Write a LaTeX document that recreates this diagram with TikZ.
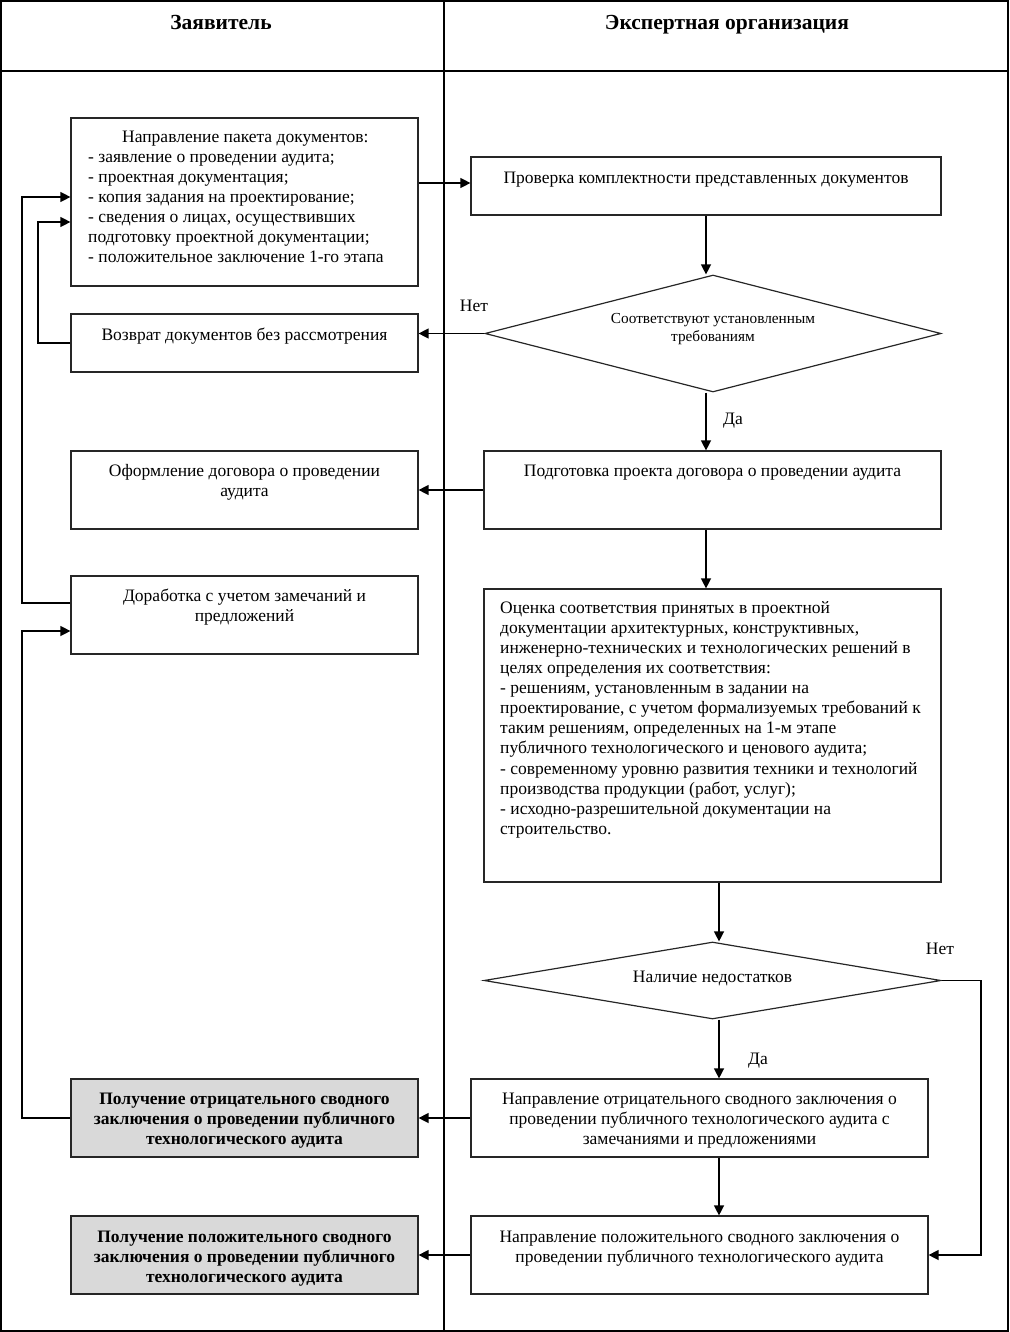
\documentclass[tikz,border=0pt]{standalone}
\usepackage{fontspec}
\setmainfont{Liberation Serif}
\usetikzlibrary{arrows.meta,shapes.geometric,calc}
\begin{document}
\begin{tikzpicture}[x=1pt,y=-1pt,
  box/.style={draw=black!85, line width=1.2pt, rectangle, inner sep=0pt},
  gbox/.style={box, fill=black!15},
  dia/.style={draw=black!85, line width=1.2pt, diamond, inner sep=0pt},
  txt/.style={inner sep=0pt, anchor=north, align=center, font=\fontsize{17.5}{20.1}\selectfont},
  btxt/.style={txt, font=\bfseries\fontsize{17.5}{20.1}\selectfont},
  stxt/.style={txt, font=\fontsize{15.3}{18}\selectfont},
  head/.style={inner sep=0pt, anchor=base, font=\bfseries\fontsize{21.5}{24}\selectfont},
  lab/.style={inner sep=0pt, font=\fontsize{17.5}{20}\selectfont},
  arr/.style={draw=black, line width=1.3pt, -{Triangle[length=10pt,width=10pt]}},
  frame/.style={draw=black, line width=1.3pt}]
\useasboundingbox (0,0) rectangle (1009,1332);
% frame
\draw[frame, line width=2pt] (1,1) rectangle (1008,1331);
\draw[frame] (0,71) -- (1009,71);
\draw[frame] (444,0) -- (444,1332);
\node[head] (h1) at (221,30) {Заявитель};
\node[head] (h2) at (727,30) {Экспертная организация};
% left boxes
\node[box, minimum width=347pt, minimum height=168pt] (b1) at (244.5,202) {};
\node[box, minimum width=347pt, minimum height=58pt] (b2) at (244.5,343) {};
\node[box, minimum width=347pt, minimum height=78pt] (b3) at (244.5,490) {};
\node[box, minimum width=347pt, minimum height=78pt] (b4) at (244.5,615) {};
\node[gbox, minimum width=347pt, minimum height=78pt] (b5) at (244.5,1118) {};
\node[gbox, minimum width=347pt, minimum height=78pt] (b6) at (244.5,1255) {};
% right boxes
\node[box, minimum width=470pt, minimum height=58pt] (r1) at (706,186) {};
\node[dia, minimum width=456pt, minimum height=117pt] (d1) at (713,333.5) {};
\node[box, minimum width=457pt, minimum height=78pt] (r2) at (712.5,490) {};
\node[box, minimum width=457pt, minimum height=293pt] (r3) at (712.5,735.5) {};
\node[dia, minimum width=457pt, minimum height=77pt] (d2) at (712.5,980.5) {};
\node[box, minimum width=457pt, minimum height=78pt] (r4) at (699.5,1118) {};
\node[box, minimum width=457pt, minimum height=78pt] (r5) at (699.5,1255) {};
% texts
\node[txt, anchor=north west, align=left] (t1) at (88,128) {\hspace*{34pt}\strut Направление пакета документов:\\
- заявление о проведении аудита;\\
- проектная документация;\\
- копия задания на проектирование;\\
- сведения о лицах, осуществивших\\
подготовку проектной документации;\\
- положительное заключение 1-го этапа};
\node[txt] (t2) at (244.5,326) {\strut Возврат документов без рассмотрения};
\node[txt] (t3) at (244.5,462) {\strut Оформление договора о проведении\\аудита};
\node[txt] (t4) at (244.5,587) {\strut Доработка с учетом замечаний и\\предложений};
\node[btxt] (t5) at (244.5,1090) {\strut Получение отрицательного сводного\\заключения о проведении публичного\\технологического аудита};
\node[btxt] (t6) at (244.5,1228) {\strut Получение положительного сводного\\заключения о проведении публичного\\технологического аудита};
\node[txt] (tr1) at (706,169) {\strut Проверка комплектности представленных документов};
\node[stxt] (td1) at (713,311) {\strut Соответствуют установленным\\требованиям};
\node[txt] (tr2) at (712.5,462) {\strut Подготовка проекта договора о проведении аудита};
\node[txt, anchor=north west, align=left] (tr3) at (500,599) {\strut Оценка соответствия принятых в проектной\\
документации архитектурных, конструктивных,\\
инженерно-технических и технологических решений в\\
целях определения их соответствия:\\
- решениям, установленным в задании на\\
проектирование, с учетом формализуемых требований к\\
таким решениям, определенных на 1-м этапе\\
публичного технологического и ценового аудита;\\
- современному уровню развития техники и технологий\\
производства продукции (работ, услуг);\\
- исходно-разрешительной документации на\\
строительство.};
\node[txt] (td2) at (712.5,968) {\strut Наличие недостатков};
\node[txt] (tr4) at (699.5,1090) {\strut Направление отрицательного сводного заключения о\\проведении публичного технологического аудита с\\замечаниями и предложениями};
\node[txt] (tr5) at (699.5,1228) {\strut Направление положительного сводного заключения о\\проведении публичного технологического аудита};
% labels
\node[lab] (l1) at (474,306) {Нет};
\node[lab] (l2) at (733,421) {Да};
\node[lab] (l3) at (940,949) {Нет};
\node[lab] (l4) at (758,1061) {Да};
% connectors
\coordinate (vx) at (719,0);
\coordinate (kR) at (981,0);
\coordinate (kE) at (0,183);
\coordinate (kA) at (38,222);
\coordinate (kB) at (22,197);
\coordinate (kC) at (22,603);
\coordinate (kD) at (22,631);
\draw[arr] (b1.east |- kE) -- (r1.west |- kE);
\draw[arr] (r1.south) -- (r1.south |- d1.north);
\draw[arr] (d1.west) -- (b2.east |- d1.west);
\draw[arr] (r1.south |- d1.south) -- (r1.south |- r2.north);
\draw[arr] (r2.west) -- (b3.east |- r2.west);
\draw[arr] (r1.south |- r2.south) -- (r1.south |- r3.north);
\draw[arr] (vx |- r3.south) -- (vx |- d2.north);
\draw[arr] (vx |- d2.south) -- (vx |- r4.north);
\draw[arr] (vx |- r4.south) -- (vx |- r5.north);
\draw[arr] (r4.west) -- (b5.east);
\draw[arr] (r5.west) -- (b6.east);
\draw[arr] (d2.east) -| (kR |- r5.east) -- (r5.east);
\draw[arr] (b2.west) -| (kA) -- (b1.west |- kA);
\draw[arr] (b4.west |- kC) -- (kC) -- (kB) -- (b1.west |- kB);
\draw[arr] (b5.west) -| (kD) -- (b4.west |- kD);
\end{tikzpicture}
\end{document}
